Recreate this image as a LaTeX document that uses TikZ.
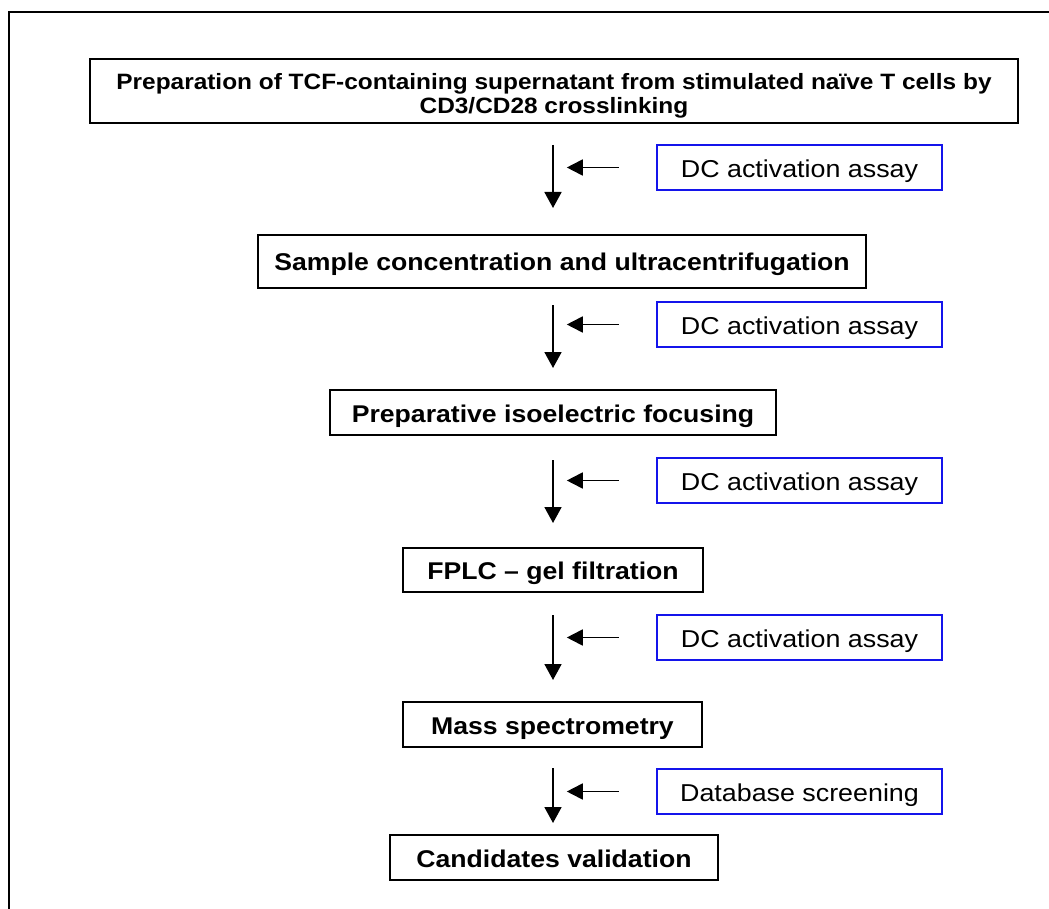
\documentclass[tikz,border=0pt]{standalone}
\usepackage{fontspec}
\setmainfont{Liberation Sans}[FakeStretch=1.1]
\usetikzlibrary{arrows.meta}
\definecolor{boxblue}{RGB}{20,20,235}
\tikzset{
  stepbox/.style={draw=black, line width=2.4pt, inner sep=0pt, font=\bfseries\fontsize{24.2}{26}\selectfont, align=center, text height=19pt, text depth=0pt},
  assaybox/.style={draw=boxblue, line width=2.4pt, inner sep=0pt, minimum width=285pt, minimum height=45pt, font=\fontsize{24.4}{28}\selectfont, text height=20pt, text depth=0pt},
  downarrow/.style={line width=1.8pt, -{Triangle[length=16pt,width=17pt]}},
  leftarrow/.style={line width=1.8pt, -{Triangle[length=16pt,width=16pt]}}
}
\begin{document}
\begin{tikzpicture}[x=1pt,y=-1pt]
\useasboundingbox (0,0) rectangle (1049,909);
% outer frame (left and top only)
\draw[line width=2.8pt] (9,909) -- (9,12) -- (1049,12);

% step boxes
\node[draw=black, line width=2.4pt, inner sep=0pt, align=center, minimum width=928pt, minimum height=64pt, font=\bfseries\fontsize{22.2}{24}\selectfont] (s1) at (554,91) {\rule{0pt}{25pt}Preparation of TCF-containing supernatant from stimulated naïve T cells by\\CD3/CD28 crosslinking};
\node[stepbox, minimum width=608pt, minimum height=53pt] (s2) at (562,261.5) {Sample concentration and ultracentrifugation};
\node[stepbox, minimum width=446pt, minimum height=45pt] (s3) at (553,412.5) {Preparative isoelectric focusing};
\node[stepbox, minimum width=300pt, minimum height=44pt] (s4) at (553,570) {FPLC – gel filtration};
\node[stepbox, minimum width=299pt, minimum height=45pt] (s5) at (552.5,724.5) {Mass spectrometry};
\node[stepbox, minimum width=328pt, minimum height=45pt] (s6) at (554,857.5) {Candidates validation};

% assay boxes
\node[assaybox] (d1) at (799.5,167.5) {DC activation assay};
\node[assaybox] (d2) at (799.5,324.5) {DC activation assay};
\node[assaybox] (d3) at (799.5,480.5) {DC activation assay};
\node[assaybox] (d4) at (799.5,637.5) {DC activation assay};
\node[assaybox] (d5) at (799.5,791.5) {Database screening};

% vertical arrows
\coordinate (v1a) at (553,145); \coordinate (v1b) at (553,208);
\coordinate (v2a) at (553,305); \coordinate (v2b) at (553,368);
\coordinate (v3a) at (553,460); \coordinate (v3b) at (553,523);
\coordinate (v4a) at (553,615); \coordinate (v4b) at (553,680);
\coordinate (v5a) at (553,768); \coordinate (v5b) at (553,823);
\foreach \i in {1,...,5} {
  \draw[downarrow] (v\i a) -- (v\i b);
}

% horizontal arrows
\foreach \i in {1,...,5} {
  \coordinate (h\i a) at ([xshift=-37pt]d\i.west);
  \coordinate (h\i b) at ([xshift=-89pt]d\i.west);
  \draw[leftarrow] (h\i a) -- (h\i b);
}
\end{tikzpicture}
\end{document}
